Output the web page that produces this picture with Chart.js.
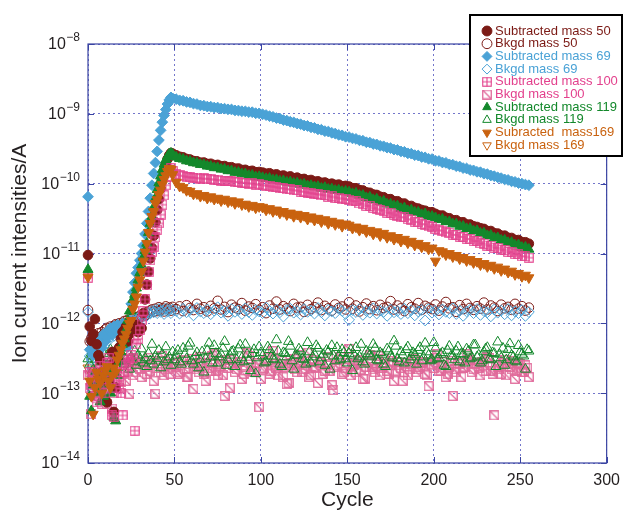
<!DOCTYPE html>
<html>
<head>
<meta charset="utf-8">
<script src="https://cdn.jsdelivr.net/npm/chart.js@4.4.1/dist/chart.umd.min.js"></script>
<style>
  html, body { margin: 0; padding: 0; background: #fff; }
</style>
</head>
<body>
<canvas id="ionChart" width="628" height="513"></canvas>
<script>
// cycle numbers: every cycle up to 49, every other cycle after
const cycles = [
  0, 1, 2, 3, 4, 5, 6, 7, 8, 9, 10, 11, 12, 13, 14, 15, 16, 17, 18, 19,
  20, 21, 22, 23, 24, 25, 26, 27, 28, 29, 30, 31, 32, 33, 34, 35, 36, 37, 38, 39,
  40, 41, 42, 43, 44, 45, 46, 47, 48, 49,
  51, 53, 55, 57, 59, 61, 63, 65, 67, 69, 71, 73, 75, 77, 79, 81, 83, 85, 87, 89, 91, 93, 95, 97, 99,
  101, 103, 105, 107, 109, 111, 113, 115, 117, 119, 121, 123, 125, 127, 129, 131, 133, 135, 137, 139,
  141, 143, 145, 147, 149, 151, 153, 155, 157, 159, 161, 163, 165, 167, 169, 171, 173, 175, 177, 179,
  181, 183, 185, 187, 189, 191, 193, 195, 197, 199, 201, 203, 205, 207, 209, 211, 213, 215, 217, 219,
  221, 223, 225, 227, 229, 231, 233, 235, 237, 239, 241, 243, 245, 247, 249, 251, 253, 255
];
// the even cycles after 49, used for the extra background points of masses 100 and 119
const evenCycles = [
  50, 52, 54, 56, 58, 60, 62, 64, 66, 68, 70, 72, 74, 76, 78, 80, 82, 84, 86, 88,
  90, 92, 94, 96, 98, 100, 102, 104, 106, 108, 110, 112, 114, 116, 118, 120, 122, 124, 126, 128,
  130, 132, 134, 136, 138, 140, 142, 144, 146, 148, 150, 152, 154, 156, 158, 160, 162, 164, 166, 168,
  170, 172, 174, 176, 178, 180, 182, 184, 186, 188, 190, 192, 194, 196, 198, 200, 202, 204, 206, 208,
  210, 212, 214, 216, 218, 220, 222, 224, 226, 228, 230, 232, 234, 236, 238, 240, 242, 244, 246, 248,
  250, 252, 254
];

// all currents below are in pA
const PA = 1e-12;

const sub50 = [
  9.5, 0.9, 0.56, 0.7, 1.15, 0.5, 0.35, 0.3, 0.2, 0.15,
  0.08, 0.074, 0.15, 0.25, 0.39, 0.054, 0.12, 0.3, 0.45, 0.6,
  0.75, 0.8, 0.9, 0.55, 0.7, 0.85, 0.9, 0.8, 0.95, 0.75,
  0.85, 0.85, 1.4, 2.2, 3.6, 5.5, 8.5, 12, 18, 28,
  42, 60, 85, 115, 150, 190, 225, 255, 275, 268,
  255, 243, 238, 226, 222, 211, 209, 200, 201, 192, 193, 185, 186, 178, 179, 171, 172, 164, 165, 157, 158, 151, 153, 146, 147,
  144, 139, 141, 134, 136, 129, 131, 125, 127, 120, 122, 116, 117, 111, 113, 107, 108, 103, 104, 99, 100, 96, 97, 92, 93,
  91, 86, 86, 81, 80, 75, 74, 70, 69, 65, 64, 60, 60, 56, 56, 52, 52, 48, 48, 45, 44, 42, 41, 39, 39,
  37, 35, 35, 32.5, 32, 30, 30, 28, 28, 26, 26, 24.5, 24, 23, 22.5, 21, 21, 19.5, 19.3, 18, 18, 16.8, 16.7, 15.6, 15.6, 14.5, 14.5, 13.8
];

const bkgd50 = [
  1.55, 0.55, 0.62, 0.58, 0.66, 0.6, 0.72, 0.64, 0.75, 0.7,
  0.82, 0.86, 0.78, 0.9, 0.84, 0.92, 0.97, 0.88, 1.0, 0.93,
  1.02, 1.08, 0.98, 1.12, 1.05, 1.15, 1.2, 1.1, 1.22, 1.16,
  1.3, 1.26, 1.36, 1.3, 1.45, 1.4, 1.52, 1.58, 1.46, 1.62,
  1.5, 1.7, 1.55, 1.64, 1.48, 1.75, 1.6, 1.68, 1.52, 1.72,
  1.6, 1.75, 1.5, 1.82, 1.66, 1.55, 1.9, 1.62, 1.7, 1.48,
  1.78, 1.64, 2.1, 1.58, 1.72, 1.45, 1.85, 1.68, 1.6, 1.95,
  1.52, 1.74, 1.66, 1.88, 1.56, 1.7, 1.4, 1.8, 1.62, 2.05,
  1.58, 1.76, 1.64, 1.5, 1.9, 1.68, 1.72, 1.46, 1.84, 1.6,
  1.7, 1.98, 1.55, 1.78, 1.64, 1.52, 1.86, 1.66, 1.74, 1.58,
  2.0, 1.62, 1.8, 1.48, 1.7, 1.92, 1.6, 1.76, 1.54, 1.84,
  1.66, 1.72, 2.08, 1.58, 1.8, 1.64, 1.5, 1.88, 1.7, 1.62,
  1.95, 1.56, 1.78, 1.68, 1.6, 1.86, 1.52, 1.74, 2.02, 1.64,
  1.7, 1.46, 1.82, 1.6, 1.9, 1.66, 1.56, 1.76, 1.62, 1.98,
  1.58, 1.8, 1.68, 1.5, 1.85, 1.64, 1.72, 1.56, 1.9, 1.62,
  1.76, 1.52, 1.68
];

const sub69 = [
  65, 0.42, 0.55, 0.35, 0.62, 0.38, 0.5, 0.58, 0.45, 0.7,
  0.55, 0.62, 0.8, 0.85, 0.7, 0.9, 0.78, 0.95, 0.85, 0.5,
  1.0, 0.6, 0.9, 0.46, 1.1, 1.9, 2.8, 3.8, 5.2, 6.3,
  8, 10, 13, 19, 27, 40, 62, 95, 140, 200,
  290, 420, 580, 760, 950, 1150, 1380, 1580, 1720, 1660,
  1620, 1560, 1540, 1480, 1460, 1400, 1380, 1320, 1310, 1270, 1265, 1230, 1230, 1190, 1185, 1160, 1155, 1120, 1115, 1090, 1085, 1060, 1055, 1020, 1015,
  985, 960, 925, 905, 870, 855, 815, 800, 770, 755,
  725, 710, 680, 670, 640, 630, 600, 592, 565, 558,
  535, 522, 500, 492, 470, 465, 445, 437, 418, 412,
  392, 388, 370, 365, 348, 343, 328, 323, 308, 304,
  290, 286, 272, 269, 256, 253, 241, 238, 227, 225,
  213, 211, 201, 199, 189, 187, 178, 176, 167, 165,
  157, 155, 148, 146, 139, 137, 131, 128, 123, 120,
  115, 113, 108, 106, 102, 100, 97, 95
];

const bkgd69 = [
  1.45, 0.34, 0.3, 0.36, 0.33, 0.4, 0.38, 0.45, 0.5, 0.47,
  0.55, 0.6, 0.57, 0.64, 0.7, 0.66, 0.75, 0.8, 0.85, 0.82,
  0.9, 0.95, 0.88, 1.0, 1.05, 0.98, 1.1, 1.15, 1.08, 1.2,
  1.25, 1.18, 1.3, 1.35, 1.28, 1.42, 1.38, 1.5, 1.44, 1.55,
  1.4, 1.6, 1.46, 1.52, 1.36, 1.62, 1.48, 1.56, 1.4, 1.58,
  1.5, 1.38, 1.62, 1.44, 1.55, 1.3, 1.66, 1.48, 1.4, 1.58,
  1.35, 1.52, 1.7, 1.42, 1.5, 1.28, 1.6, 1.46, 1.54, 1.36,
  1.64, 1.45, 1.32, 1.56, 1.48, 1.4, 1.68, 1.5, 1.38, 1.58,
  1.44, 1.25, 1.55, 1.62, 1.42, 1.5, 1.34, 1.6, 1.46, 1.52,
  1.38, 1.66, 1.44, 1.3, 1.56, 1.48, 1.4, 1.62, 1.5, 1.36,
  1.12, 1.55, 1.45, 1.6, 1.32, 1.5, 1.42, 1.64, 1.38, 1.52,
  1.46, 1.28, 1.58, 1.44, 1.5, 1.36, 1.62, 1.4, 1.54, 1.3,
  1.48, 1.56, 1.1, 1.6, 1.42, 1.5, 1.34, 1.58, 1.46, 1.4,
  1.64, 1.36, 1.52, 1.28, 1.48, 1.56, 1.4, 1.6, 1.32, 1.5,
  1.44, 1.26, 1.58, 1.42, 1.52, 1.35, 1.6, 1.3, 1.48, 1.4,
  1.55, 1.28, 1.45
];

const sub100 = [
  4.5, 0.2, 0.13, 0.18, 0.09, 0.074, 0.15, 0.245, 0.2, 0.12,
  0.1, 0.27, 0.32, 0.15, 0.048, 0.046, 0.12, 0.2, 0.15, 0.1,
  0.048, 0.2, 0.25, 0.3, 0.28, 0.35, 0.32, 0.029, 0.5, 0.6,
  0.8, 1.1, 1.5, 2.2, 3.5, 5.5, 8, 10.5, 12.5, 17,
  22, 27, 36, 50, 68, 95, 125, 150, 166, 150,
  138, 131, 128, 124, 124, 121, 122, 118, 119, 116, 117, 113, 114, 111, 111, 108, 109, 105, 106, 103, 103, 100, 101, 97, 98,
  96, 93, 93, 89, 90, 86, 86, 83, 83, 80, 80, 77, 77, 74, 74, 71, 71, 68, 69, 65, 66, 63, 63, 60, 61,
  59, 56, 56, 52, 51, 48, 48, 45, 44, 42, 41, 38.5, 38, 36, 35, 33, 33, 31, 30.5, 28.5, 28, 26.5, 26, 24.5, 24,
  22.6, 21.5, 21.2, 20, 19.8, 18.6, 18.4, 17.4, 17.2, 16.2, 16, 15.1, 15, 14, 13.8, 13, 12.9, 12.1, 12, 11.3, 11.2, 10.5, 10.4, 9.8, 9.7, 9.1, 9.1, 8.7
];

const bkgd100 = [
  0.18, 0.12, 0.05, 0.2, 0.15, 0.09, 0.22, 0.13, 0.07, 0.17,
  0.24, 0.07, 0.14, 0.2, 0.06, 0.1, 0.16, 0.23, 0.12, 0.145,
  0.19, 0.27, 0.15, 0.21, 0.098, 0.25, 0.18, 0.3, 0.2, 0.26,
  0.22, 0.17, 0.28, 0.24, 0.19, 0.32, 0.21, 0.26, 0.15, 0.098,
  0.23, 0.29, 0.2, 0.34, 0.18, 0.25, 0.22, 0.31, 0.19, 0.27,
  0.24, 0.2, 0.3, 0.17, 0.26, 0.115, 0.22, 0.33, 0.19, 0.27,
  0.21, 0.36, 0.18, 0.25, 0.091, 0.23, 0.3, 0.2, 0.28, 0.16,
  0.24, 0.34, 0.21, 0.27, 0.063, 0.22, 0.29, 0.19, 0.4, 0.23,
  0.26, 0.17, 0.135, 0.25, 0.31, 0.2, 0.28, 0.22, 0.38, 0.18,
  0.24, 0.14, 0.27, 0.21, 0.33, 0.13, 0.25, 0.3, 0.19, 0.23,
  0.43, 0.26, 0.2, 0.29, 0.16, 0.24, 0.35, 0.22, 0.27, 0.18,
  0.31, 0.21, 0.25, 0.15, 0.28, 0.23, 0.2, 0.18, 0.26, 0.3,
  0.22, 0.27, 0.19, 0.126, 0.25, 0.32, 0.21, 0.28, 0.17, 0.24,
  0.091, 0.2, 0.26, 0.23, 0.36, 0.3, 0.22, 0.27, 0.18, 0.25,
  0.33, 0.21, 0.048, 0.24, 0.19, 0.3, 0.26, 0.22, 0.16, 0.27,
  0.2, 0.25, 0.17
];
const bkgd100Even = [
  0.26, 0.19, 0.29, 0.22, 0.17, 0.31, 0.24, 0.2, 0.27, 0.15,
  0.23, 0.34, 0.21, 0.26, 0.18, 0.3, 0.12, 0.25, 0.22, 0.28,
  0.19, 0.37, 0.24, 0.2, 0.27, 0.16, 0.23, 0.32, 0.21, 0.26,
  0.18, 0.29, 0.24, 0.14, 0.27, 0.22, 0.35, 0.2, 0.25, 0.17,
  0.3, 0.23, 0.28, 0.19, 0.26, 0.21, 0.11, 0.24, 0.33, 0.2,
  0.27, 0.18, 0.25, 0.3, 0.22, 0.16, 0.28, 0.24, 0.2, 0.34,
  0.23, 0.26, 0.19, 0.29, 0.21, 0.25, 0.15, 0.27, 0.22, 0.31,
  0.2, 0.24, 0.28, 0.18, 0.26, 0.23, 0.36, 0.21, 0.25, 0.19,
  0.29, 0.22, 0.27, 0.17, 0.24, 0.3, 0.2, 0.26, 0.23, 0.28,
  0.21, 0.32, 0.19, 0.25, 0.22, 0.27, 0.18, 0.24, 0.29, 0.21,
  0.26, 0.2, 0.23
];

const sub119 = [
  5.9, 0.09, 0.056, 0.13, 0.2, 0.15, 0.1, 0.075, 0.12, 0.09,
  0.16, 0.25, 0.13, 0.1, 0.2, 0.045, 0.04, 0.18, 0.28, 0.39,
  0.5, 0.6, 0.8, 1.1, 1.5, 1.5, 2.2, 2.6, 3.2, 4.2,
  5.3, 6.8, 8.8, 11, 14, 20, 27, 34, 46, 62,
  82, 103, 128, 160, 190, 220, 245, 265, 272, 262,
  240, 229, 224, 212, 209, 199, 197, 188, 187, 178, 177, 169, 169, 161, 161, 153, 153, 145, 145, 138, 138, 131, 132, 125, 126,
  122, 118, 119, 113, 114, 109, 110, 105, 106, 101, 102, 97, 98, 93, 94, 90, 91, 86, 88, 83, 84, 80, 81, 77, 78,
  76, 72, 73, 68, 68, 63, 64, 59, 60, 55, 56, 51, 51, 48, 48, 44, 45, 41, 42, 39, 39, 36, 37, 34, 34,
  32.5, 30.5, 31, 28.5, 28.5, 26.5, 26.5, 24.5, 24.5, 22.7, 22.8, 21, 21.2, 19.5, 19.6, 18, 18.2, 16.7, 16.8, 15.5, 15.5, 14.3, 14.4, 13.2, 13.3, 12.2, 12.3, 11.5
];

const bkgd119 = [
  0.31, 0.26, 0.35, 0.22, 0.3, 0.4, 0.24, 0.33, 0.28, 0.37,
  0.21, 0.32, 0.27, 0.42, 0.25, 0.3, 0.36, 0.23, 0.34, 0.29,
  0.45, 0.26, 0.31, 0.38, 0.22, 0.33, 0.28, 0.4, 0.25, 0.35,
  0.3, 0.43, 0.27, 0.32, 0.24, 0.37, 0.29, 0.5, 0.26, 0.34,
  0.31, 0.41, 0.23, 0.36, 0.28, 0.46, 0.3, 0.33, 0.25, 0.39,
  0.35, 0.28, 0.44, 0.31, 0.52, 0.26, 0.38, 0.3, 0.2, 0.41,
  0.33, 0.48, 0.27, 0.36, 0.55, 0.3, 0.39, 0.24, 0.43, 0.32,
  0.5, 0.29, 0.37, 0.19, 0.46, 0.34, 0.28, 0.42, 0.31, 0.58,
  0.26, 0.38, 0.33, 0.47, 0.22, 0.35, 0.4, 0.3, 0.53, 0.27,
  0.36, 0.44, 0.32, 0.25, 0.39, 0.48, 0.29, 0.34, 0.42, 0.31,
  0.37, 0.21, 0.45, 0.33, 0.28, 0.4, 0.35, 0.5, 0.3, 0.38,
  0.26, 0.43, 0.34, 0.56, 0.31, 0.39, 0.27, 0.46, 0.33, 0.36,
  0.41, 0.29, 0.52, 0.35, 0.3, 0.44, 0.32, 0.38, 0.24, 0.47,
  0.34, 0.4, 0.28, 0.36, 0.43, 0.31, 0.49, 0.33, 0.27, 0.39,
  0.45, 0.3, 0.37, 0.54, 0.32, 0.25, 0.42, 0.35, 0.29, 0.48,
  0.36, 0.22, 0.4
];
const bkgd119Even = [
  0.3, 0.41, 0.26, 0.36, 0.47, 0.29, 0.34, 0.23, 0.39, 0.31,
  0.52, 0.27, 0.37, 0.33, 0.44, 0.25, 0.35, 0.4, 0.3, 0.49,
  0.28, 0.36, 0.21, 0.42, 0.32, 0.38, 0.27, 0.46, 0.34, 0.3,
  0.4, 0.24, 0.37, 0.55, 0.29, 0.35, 0.43, 0.31, 0.26, 0.39,
  0.33, 0.48, 0.28, 0.36, 0.41, 0.22, 0.34, 0.45, 0.3, 0.38,
  0.27, 0.42, 0.35, 0.31, 0.5, 0.26, 0.37, 0.33, 0.44, 0.29,
  0.36, 0.24, 0.4, 0.32, 0.47, 0.28, 0.35, 0.42, 0.3, 0.38,
  0.26, 0.45, 0.33, 0.39, 0.29, 0.53, 0.31, 0.36, 0.25, 0.41,
  0.34, 0.3, 0.46, 0.37, 0.27, 0.4, 0.32, 0.49, 0.35, 0.29,
  0.43, 0.31, 0.38, 0.24, 0.36, 0.44, 0.3, 0.51, 0.33, 0.28,
  0.39, 0.34, 0.42
];

const sub169 = [
  4.6, 0.15, 0.09, 0.05, 0.12, 0.2, 0.16, 0.14, 0.1, 0.18,
  0.21, 0.24, 0.15, 0.12, 0.18, 0.23, 0.2, 0.3, 0.35, 0.42,
  0.52, 0.6, 0.7, 0.85, 1.0, 1.1, 1.6, 1.9, 2.4, 3.3,
  4.2, 5.5, 7.8, 10.5, 14, 20, 27, 34, 40, 52,
  59, 70, 81, 97, 115, 130, 150, 165, 160, 135,
  105, 92, 88, 80, 78, 71, 72, 66, 68, 62, 65, 60, 62, 57, 60, 55, 57, 52, 55, 50, 51, 47, 49, 45, 47,
  46, 42, 44, 40, 42, 38, 40, 36, 38, 34, 36.5, 33, 35, 31, 33.5, 30, 32, 28.5, 30.5, 27, 29, 26, 27.5, 24.5, 26.5,
  25.5, 23, 24, 21.5, 23, 20.5, 21.5, 19, 20.5, 18, 19.5, 17, 18, 16, 17, 15, 16, 14.2, 15, 13.2, 14, 12.4, 13, 11.6, 12,
  7.8, 11, 10.6, 9.6, 10, 9, 9.4, 8.4, 8.8, 7.9, 8.2, 7.4, 7.7, 6.9, 7.2, 6.5, 6.8, 6.1, 6.4, 5.7, 6, 5.4, 5.6, 5, 5.2, 4.7, 4.9, 4.5
];

// only the first background point of mass 169 is visible
const bkgd169 = [0.23];

const seriesNames = [
  'Subtracted mass 50', 'Bkgd mass 50',
  'Subtracted mass 69', 'Bkgd mass 69',
  'Subtracted mass 100', 'Bkgd mass 100',
  'Subtracted mass 119', 'Bkgd mass 119',
  'Subracted  mass169', 'Bkgd mass 169'
];
const yExponents = [-14, -13, -12, -11, -10, -9, -8];

const maroon = '#7b1a15';
const blue = '#4aa2d6';
const pink = '#e3418d';
const pinkLight = '#e0699a';
const green = '#13882b';
const orange = '#c9620f';
const clear = 'rgba(0,0,0,0)';
const textColors = [maroon, maroon, blue, blue, pink, pink, green, green, orange, orange];
const fontFamily = '"Liberation Sans", Arial, Helvetica, sans-serif';

// square markers with a cross or a diagonal, used as point styles
function boxMarker(color, kind) {
  const s = 10;
  const c = document.createElement('canvas');
  c.width = s; c.height = s;
  const g = c.getContext('2d');
  g.strokeStyle = color;
  g.lineWidth = kind === 'grid' ? 1.1 : 1.3;
  g.strokeRect(0.75, 0.75, s - 1.5, s - 1.5);
  g.beginPath();
  if (kind === 'grid') {
    g.moveTo(s / 2, 0.5); g.lineTo(s / 2, s - 0.5);
    g.moveTo(0.5, s / 2); g.lineTo(s - 0.5, s / 2);
  } else {
    g.moveTo(0.75, 0.75); g.lineTo(s - 0.75, s - 0.75);
  }
  g.stroke();
  return c;
}
const gridMark = boxMarker(pink, 'grid');
const slashMark = boxMarker(pinkLight, 'slash');

const pointsAt = (xs, vals) => vals.map((v, i) => ({ x: xs[i], y: v * PA }));

function series(i, points, style, fill, edge, radius, order, rotation) {
  return {
    label: seriesNames[i],
    data: points,
    pointStyle: style,
    pointRadius: radius,
    pointRotation: rotation || 0,
    backgroundColor: fill,
    borderColor: edge,
    borderWidth: 1,
    order: order,
    clip: false
  };
}

const frame = {
  id: 'frame',
  beforeDatasetsDraw(chart) {
    const { ctx, chartArea: a, scales: { x, y } } = chart;
    ctx.save();
    ctx.strokeStyle = '#3a44a2';
    ctx.lineWidth = 1.2;
    ctx.strokeRect(a.left, a.top, a.right - a.left, a.bottom - a.top);
    ctx.lineWidth = 1;
    ctx.beginPath();
    yExponents.forEach(p => {
      const py = Math.round(y.getPixelForValue(Math.pow(10, p))) + 0.5;
      ctx.moveTo(a.left, py); ctx.lineTo(a.left + 6, py);
      ctx.moveTo(a.right, py); ctx.lineTo(a.right - 6, py);
    });
    x.ticks.forEach(t => {
      const px = Math.round(x.getPixelForValue(t.value)) + 0.5;
      ctx.moveTo(px, a.bottom); ctx.lineTo(px, a.bottom - 6);
      ctx.moveTo(px, a.top); ctx.lineTo(px, a.top + 6);
    });
    ctx.stroke();
    ctx.restore();
  }
};

// 10 with a raised exponent for each decade
const powerLabels = {
  id: 'powerLabels',
  afterDraw(chart) {
    const { ctx, scales: { y } } = chart;
    ctx.save();
    ctx.fillStyle = '#231f20';
    ctx.textBaseline = 'middle';
    yExponents.forEach(p => {
      const py = y.getPixelForValue(Math.pow(10, p));
      const exp = '\u2212' + Math.abs(p);
      ctx.font = '12px ' + fontFamily;
      const w = ctx.measureText(exp).width;
      ctx.textAlign = 'left';
      ctx.fillText(exp, 80 - w, py - 6);
      ctx.font = '16px ' + fontFamily;
      ctx.textAlign = 'right';
      ctx.fillText('10', 80 - w - 0.5, py + 1);
    });
    ctx.restore();
  }
};

const legendBox = {
  id: 'legendBox',
  afterLayout(chart) {
    const lg = chart.legend;
    lg.left = 485.8; lg.top = 24.8;
    lg.right = 623; lg.bottom = 160;
  },
  afterDatasetsDraw(chart) {
    const ctx = chart.ctx;
    ctx.save();
    ctx.fillStyle = '#fff';
    ctx.fillRect(470, 15, 152, 141);
    ctx.strokeStyle = '#000';
    ctx.lineWidth = 2;
    ctx.strokeRect(470, 15, 152, 141);
    ctx.restore();
    ctx.save();
    chart.legend._draw();
    ctx.restore();
  }
};

Chart.defaults.font.family = fontFamily;

new Chart(document.getElementById('ionChart'), {
  type: 'scatter',
  data: {
    datasets: [
      series(0, pointsAt(cycles, sub50), 'circle', maroon, maroon, 4.8, 4),
      series(1, pointsAt(cycles, bkgd50), 'circle', clear, maroon, 4.8, 7),
      series(2, pointsAt(cycles, sub69), 'rectRot', blue, blue, 5.4, 5),
      series(3, pointsAt(cycles, bkgd69), 'rectRot', clear, blue, 5.4, 6),
      series(4, pointsAt(cycles, sub100), gridMark, clear, pink, 5, 2),
      series(5, pointsAt(cycles, bkgd100).concat(pointsAt(evenCycles, bkgd100Even)), slashMark, clear, pinkLight, 5, 9),
      series(6, pointsAt(cycles, sub119), 'triangle', green, green, 5.8, 3),
      series(7, pointsAt(cycles, bkgd119).concat(pointsAt(evenCycles, bkgd119Even)), 'triangle', clear, green, 5.8, 8),
      series(8, pointsAt(cycles, sub169), 'triangle', orange, orange, 5.8, 1, 180),
      series(9, pointsAt(cycles, bkgd169), 'triangle', clear, orange, 5.8, 10, 180)
    ]
  },
  options: {
    responsive: false,
    devicePixelRatio: 1,
    animation: false,
    events: [],
    layout: { padding: { top: 44, right: 15, left: 0, bottom: 0 } },
    scales: {
      x: {
        type: 'linear',
        min: 0,
        max: 300,
        ticks: { stepSize: 50, padding: 8, color: '#231f20', font: { size: 16 } },
        grid: { color: 'rgba(80,84,190,0.8)', drawTicks: false },
        border: { display: false, dash: [2, 3] },
        title: { display: true, text: 'Cycle', color: '#231f20', font: { size: 21 }, padding: { top: 0, bottom: 0 } },
        afterFit: scale => { scale.height = 50; }
      },
      y: {
        type: 'logarithmic',
        min: 1e-14,
        max: 1e-8,
        afterBuildTicks: scale => {
          scale.ticks = yExponents.map(p => ({ value: Math.pow(10, p) }));
        },
        ticks: { display: false },
        grid: { color: 'rgba(80,84,190,0.8)', drawTicks: false },
        border: { display: false, dash: [2, 3] },
        title: { display: true, text: 'Ion current intensities/A', color: '#231f20', font: { size: 21 }, padding: { top: 8, bottom: 0 } },
        afterFit: scale => { scale.width = 88; }
      }
    },
    plugins: {
      tooltip: { enabled: false },
      legend: {
        position: 'chartArea',
        align: 'start',
        labels: {
          usePointStyle: true,
          boxWidth: 3,
          boxHeight: 7,
          padding: -0.3,
          font: { size: 13 },
          sort: (a, b) => a.datasetIndex - b.datasetIndex,
          generateLabels: chart => Chart.defaults.plugins.legend.labels.generateLabels(chart)
            .map(item => Object.assign(item, { fontColor: textColors[item.datasetIndex] }))
        }
      }
    }
  },
  plugins: [frame, legendBox, powerLabels]
});
</script>
</body>
</html>
